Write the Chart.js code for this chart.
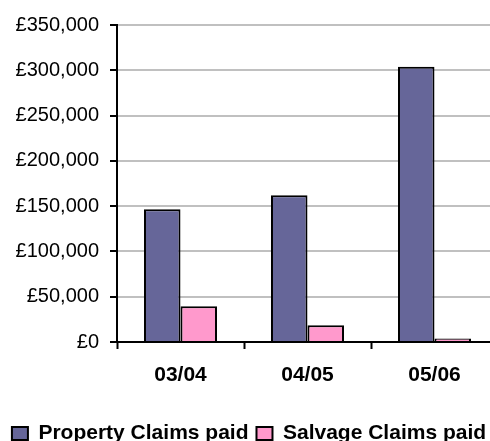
<!DOCTYPE html>
<html>
<head>
<meta charset="utf-8">
<script src="https://cdn.jsdelivr.net/npm/chart.js@4/dist/chart.umd.min.js"></script>
<style>
  html, body { margin: 0; padding: 0; background: #fff; overflow: hidden; }
  #wrap { width: 500px; height: 441px; overflow: hidden; position: relative; }
  #box  { width: 500px; height: 454px; position: absolute; left: 0; top: 0; }
</style>
</head>
<body>
<div id="wrap"><div id="box"><canvas id="chart"></canvas></div></div>
<script>
// ── Data ─────────────────────────────────
const years     = ['03/04', '04/05', '05/06'];
const property  = [146500, 162000, 304000];
const salvage   = [39500, 18500, 4000];
const yMax      = 350000;
const yStep     = 50000;

// ── Colours ──────────────────────────────
const propColor = '#666699';
const salvColor = '#ff99cc';
const gridColor = '#c0c0c0';

const fmt = v => '£' + v.toLocaleString('en-GB');

new Chart(document.getElementById('chart'), {
  type: 'bar',
  data: {
    labels: years,
    datasets: [
      {
        label: 'Property Claims paid',
        data: property,
        backgroundColor: propColor,
        borderColor: '#000',
        borderWidth: 2
      },
      {
        label: 'Salvage Claims paid',
        data: salvage,
        backgroundColor: salvColor,
        borderColor: '#000',
        borderWidth: 2
      }
    ]
  },
  options: {
    responsive: true,
    maintainAspectRatio: false,
    animation: false,
    datasets: { bar: { categoryPercentage: 0.575, barPercentage: 1 } },
    layout: { padding: { top: 25, right: 2, left: 0, bottom: 0 } },
    plugins: {
      tooltip: { enabled: false },
      legend: {
        position: 'bottom',
        labels: {
          color: '#000',
          font: { family: 'Arial, "Liberation Sans"', size: 21, weight: 'bold' },
          boxWidth: 16,
          boxHeight: 13,
          padding: 8,
          generateLabels: chart => chart.data.datasets.map((ds, i) => ({
            text: ds.label,
            fillStyle: ds.backgroundColor,
            strokeStyle: '#000',
            lineWidth: 2,
            datasetIndex: i
          }))
        }
      }
    },
    scales: {
      x: {
        grid: {
          offset: true,
          drawOnChartArea: false,
          drawTicks: true,
          tickLength: 7,
          tickColor: '#000',
          tickWidth: 2
        },
        border: { color: '#000', width: 2 },
        ticks: {
          color: '#000',
          padding: 14,
          font: { family: 'Arial, "Liberation Sans"', size: 21, weight: 'bold' }
        },
        afterFit: s => { s.height = 73; }
      },
      y: {
        min: 0,
        max: yMax,
        grid: {
          color: gridColor,
          lineWidth: 2,
          tickLength: 7,
          tickColor: '#000',
          tickWidth: 2
        },
        border: { color: '#000', width: 2 },
        ticks: {
          stepSize: yStep,
          color: '#000',
          padding: 11,
          font: { family: 'Arial, "Liberation Sans"', size: 20 },
          callback: v => fmt(v)
        },
        afterFit: s => { s.width = 117; }
      }
    }
  }
});
</script>
</body>
</html>
